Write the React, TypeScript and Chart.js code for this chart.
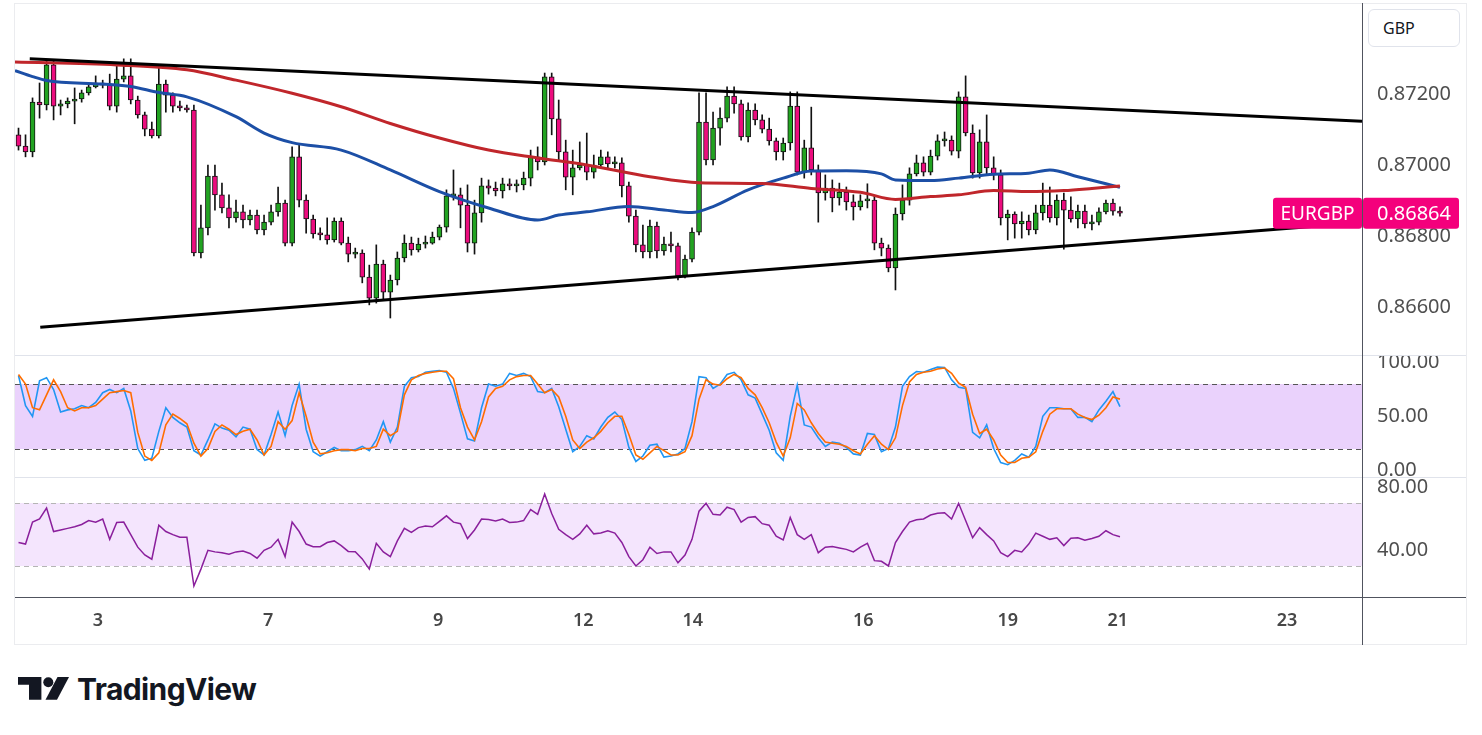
import React, { useEffect, useRef } from "react";
import { Chart, registerables } from "chart.js";

Chart.register(...registerables);
Chart.defaults.font.family = '"Noto Sans", sans-serif';

// ---------------- data ----------------
const SYMBOL = "EURGBP";
const CURRENCY = "GBP";

const OPEN = [
  0.87085, 0.87053, 0.87037, 0.87177, 0.87169, 0.87282, 0.87166, 0.87172, 0.8718, 0.87186,
  0.87203, 0.8722, 0.87231, 0.87225, 0.87166, 0.87242, 0.87251, 0.87183, 0.87141, 0.87101,
  0.87082, 0.87228, 0.87197, 0.87166, 0.87161, 0.87155, 0.86752, 0.86823, 0.86969, 0.86916,
  0.86879, 0.86851, 0.86868, 0.86845, 0.86859, 0.86817, 0.86839, 0.86868, 0.86893, 0.8678,
  0.87023, 0.86901, 0.86848, 0.86806, 0.86803, 0.86789, 0.86842, 0.8678, 0.86749, 0.86752,
  0.86684, 0.86625, 0.86721, 0.86642, 0.86676, 0.86738, 0.8678, 0.86761, 0.86777, 0.8678,
  0.86797, 0.86825, 0.86913, 0.86916, 0.86887, 0.8678, 0.86865, 0.86941, 0.86935, 0.86927,
  0.86947, 0.86941, 0.86944, 0.86963, 0.87023, 0.87009, 0.87248, 0.8713, 0.87037, 0.86966,
  0.86992, 0.87, 0.8698, 0.87, 0.87023, 0.87003, 0.87006, 0.86941, 0.86856, 0.86775,
  0.86755, 0.86828, 0.86758, 0.86777, 0.86772, 0.86687, 0.86735, 0.86811, 0.87121, 0.87014,
  0.87104, 0.87132, 0.87194, 0.87172, 0.87079, 0.87155, 0.87127, 0.87101, 0.87068, 0.87037,
  0.87062, 0.87166, 0.8698, 0.87048, 0.86986, 0.86921, 0.86935, 0.86907, 0.86924, 0.86896,
  0.86882, 0.86899, 0.86901, 0.8678, 0.86766, 0.8671, 0.86862, 0.86901, 0.86975, 0.87006,
  0.8698, 0.87025, 0.87068, 0.8707, 0.87039, 0.87192, 0.8709, 0.86978, 0.87065, 0.86992,
  0.86972, 0.86851, 0.86862, 0.86834, 0.86842, 0.86817, 0.86865, 0.86887, 0.86851, 0.86901,
  0.86873, 0.86848, 0.8687, 0.86834, 0.86839, 0.86868, 0.86893, 0.8687,
];
const HIGH = [
  0.87104, 0.87085, 0.87189, 0.87231, 0.87296, 0.87296, 0.87183, 0.87189, 0.87217, 0.87211,
  0.87228, 0.87251, 0.87239, 0.87256, 0.87285, 0.87299, 0.87299, 0.87194, 0.87149, 0.87121,
  0.87282, 0.87239, 0.87203, 0.8718, 0.87169, 0.87169, 0.86887, 0.87, 0.87, 0.86949,
  0.86916, 0.86901, 0.86887, 0.86873, 0.86873, 0.86859, 0.86887, 0.86938, 0.86901, 0.87051,
  0.87056, 0.86916, 0.86859, 0.86823, 0.86851, 0.86851, 0.86851, 0.86797, 0.86766, 0.86761,
  0.86718, 0.86775, 0.86732, 0.8669, 0.86755, 0.86803, 0.86797, 0.86794, 0.868, 0.86811,
  0.86831, 0.8693, 0.86986, 0.86935, 0.86944, 0.86901, 0.86963, 0.86958, 0.86952, 0.86963,
  0.86961, 0.86958, 0.8698, 0.87042, 0.87051, 0.87259, 0.87259, 0.87183, 0.8707, 0.87042,
  0.87065, 0.8709, 0.87028, 0.87042, 0.87037, 0.87023, 0.8702, 0.86952, 0.86873, 0.86831,
  0.86845, 0.86839, 0.86797, 0.86811, 0.8678, 0.86746, 0.86823, 0.87203, 0.87203, 0.87149,
  0.87161, 0.8722, 0.8722, 0.87183, 0.87175, 0.87172, 0.87141, 0.87132, 0.87076, 0.87076,
  0.87206, 0.87206, 0.8707, 0.87163, 0.87, 0.86972, 0.86958, 0.86949, 0.86938, 0.86916,
  0.86916, 0.86947, 0.86913, 0.86794, 0.86775, 0.86879, 0.86944, 0.86992, 0.87028, 0.87023,
  0.87042, 0.87085, 0.87093, 0.87082, 0.87206, 0.87251, 0.87113, 0.87099, 0.87141, 0.87023,
  0.86986, 0.86873, 0.86868, 0.86868, 0.86859, 0.86887, 0.86949, 0.86938, 0.86916, 0.86921,
  0.8691, 0.86887, 0.86887, 0.86859, 0.86879, 0.86901, 0.86904, 0.86882,
];
const LOW = [
  0.87042, 0.87023, 0.87023, 0.87132, 0.87155, 0.87127, 0.87141, 0.87161, 0.87116, 0.87177,
  0.87197, 0.87217, 0.87217, 0.87155, 0.87149, 0.87234, 0.87172, 0.87132, 0.87082, 0.87076,
  0.87076, 0.87149, 0.87149, 0.87152, 0.87149, 0.86744, 0.86738, 0.86803, 0.86873, 0.86865,
  0.86823, 0.86839, 0.86823, 0.86831, 0.86806, 0.86803, 0.86831, 0.86856, 0.86772, 0.86772,
  0.86882, 0.86808, 0.86794, 0.86789, 0.86777, 0.86783, 0.86775, 0.86727, 0.86738, 0.86668,
  0.86606, 0.86611, 0.8662, 0.86569, 0.86662, 0.86727, 0.86746, 0.86755, 0.86766, 0.86777,
  0.86789, 0.86811, 0.86901, 0.86823, 0.86755, 0.86749, 0.86839, 0.86918, 0.86913, 0.86907,
  0.8693, 0.86924, 0.8693, 0.86941, 0.86986, 0.87, 0.87085, 0.87014, 0.8693, 0.86916,
  0.86986, 0.86958, 0.86963, 0.86992, 0.86992, 0.86992, 0.8691, 0.86839, 0.86755, 0.86738,
  0.86738, 0.86738, 0.86746, 0.86755, 0.86676, 0.86682, 0.86727, 0.86803, 0.87, 0.87,
  0.87056, 0.87121, 0.87146, 0.8707, 0.87065, 0.87113, 0.8709, 0.87056, 0.87014, 0.87014,
  0.87042, 0.86972, 0.86963, 0.86972, 0.86839, 0.86901, 0.86868, 0.86887, 0.86873, 0.86845,
  0.86873, 0.86879, 0.86761, 0.86744, 0.86699, 0.86648, 0.86845, 0.86887, 0.86969, 0.86969,
  0.86972, 0.87014, 0.87053, 0.87028, 0.8702, 0.87082, 0.86963, 0.86963, 0.86972, 0.86958,
  0.86831, 0.86789, 0.86794, 0.86794, 0.86803, 0.86806, 0.86845, 0.86839, 0.86831, 0.86763,
  0.86839, 0.86823, 0.86823, 0.86817, 0.86831, 0.86862, 0.86859, 0.86856,
];
const CLOSE = [
  0.87053, 0.87037, 0.87177, 0.87169, 0.87282, 0.87166, 0.87172, 0.8718, 0.87186, 0.87203,
  0.8722, 0.87231, 0.87225, 0.87166, 0.87242, 0.87251, 0.87183, 0.87141, 0.87101, 0.87082,
  0.87228, 0.87197, 0.87166, 0.87161, 0.87155, 0.86752, 0.86823, 0.86969, 0.86916, 0.86879,
  0.86851, 0.86868, 0.86845, 0.86859, 0.86817, 0.86839, 0.86868, 0.86893, 0.8678, 0.87023,
  0.86901, 0.86848, 0.86806, 0.86803, 0.86789, 0.86842, 0.8678, 0.86749, 0.86752, 0.86684,
  0.86625, 0.86721, 0.86642, 0.86676, 0.86738, 0.8678, 0.86761, 0.86777, 0.8678, 0.86797,
  0.86825, 0.86913, 0.86916, 0.86887, 0.8678, 0.86865, 0.86941, 0.86935, 0.86927, 0.86947,
  0.86941, 0.86944, 0.86963, 0.87023, 0.87009, 0.87248, 0.8713, 0.87037, 0.86966, 0.86992,
  0.87, 0.8698, 0.87, 0.87023, 0.87003, 0.87006, 0.86941, 0.86856, 0.86775, 0.86755,
  0.86828, 0.86758, 0.86777, 0.86772, 0.86687, 0.86735, 0.86811, 0.87121, 0.87014, 0.87104,
  0.87132, 0.87194, 0.87172, 0.87079, 0.87155, 0.87127, 0.87101, 0.87068, 0.87037, 0.87062,
  0.87166, 0.8698, 0.87048, 0.86986, 0.86921, 0.86935, 0.86907, 0.86924, 0.86896, 0.86882,
  0.86899, 0.86901, 0.8678, 0.86766, 0.8671, 0.86862, 0.86901, 0.86975, 0.87006, 0.8698,
  0.87025, 0.87068, 0.8707, 0.87039, 0.87192, 0.8709, 0.86978, 0.87065, 0.86992, 0.86972,
  0.86851, 0.86862, 0.86834, 0.86842, 0.86817, 0.86865, 0.86887, 0.86851, 0.86901, 0.86873,
  0.86848, 0.8687, 0.86834, 0.86839, 0.86868, 0.86893, 0.8687, 0.86864,
];

// moving averages (index position + value)
const MA_FAST_X = [-0.5, 2, 4, 12, 16, 20, 24, 31, 35, 39, 46, 53, 60, 67, 74, 77, 81, 87, 92, 96, 99, 104, 109, 113, 118, 123, 125, 130, 134, 139, 144, 147, 151, 157];
const MA_FAST = [0.87266, 0.87249, 0.87238, 0.87228, 0.87221, 0.87204, 0.87192, 0.87136, 0.8709, 0.87063, 0.87042, 0.86986, 0.86925, 0.86879, 0.86845, 0.86859, 0.86868, 0.86883, 0.86873, 0.86866, 0.86883, 0.8693, 0.86963, 0.86983, 0.86984, 0.86975, 0.86958, 0.86956, 0.86963, 0.86974, 0.86977, 0.86986, 0.86967, 0.86937];
const MA_SLOW_X = [-0.5, 14, 24, 31, 39, 46, 53, 60, 67, 74, 81, 90, 97, 106, 113, 120, 125, 130, 134, 139, 144, 149, 153, 157];
const MA_SLOW = [0.8729, 0.87282, 0.87268, 0.87239, 0.87202, 0.87164, 0.87117, 0.87076, 0.87042, 0.8702, 0.87, 0.86967, 0.8695, 0.86948, 0.86934, 0.86923, 0.86903, 0.86911, 0.86916, 0.86928, 0.86925, 0.86928, 0.86934, 0.86941];

// trend lines (index position + price)
const TREND_UPPER_X = [1.6, 191.5];
const TREND_UPPER = [0.87299, 0.87123];
const TREND_LOWER_X = [3.1, 191.5];
const TREND_LOWER = [0.86543, 0.86838];

// stochastic %K / %D
const STOCH_K = [
  88, 60, 50, 83, 86, 75, 54, 56, 57, 60,
  58, 63, 72, 75, 72, 76, 55, 20, 9, 11,
  36, 58, 49, 44, 40, 18, 14, 28, 43, 39,
  37, 31, 40, 38, 19, 14, 33, 54, 32, 60,
  80, 38, 17, 13, 17, 21, 18, 18, 19, 22,
  18, 28, 45, 26, 40, 78, 86, 87, 91, 92,
  92.5, 91, 76, 53, 29, 27, 58, 80, 78, 80,
  90, 88, 90, 87, 73, 72, 76, 59, 38, 17,
  22, 32, 29, 40, 49, 54, 47, 21, 8, 13,
  23, 24, 12, 13, 15, 20, 45, 87, 86, 76,
  80, 89, 91, 84, 70, 67, 52, 37, 16, 9,
  50, 79, 42, 40, 30, 22, 26, 25, 21, 15,
  14, 34, 33, 17, 20, 40, 78, 87, 91.7, 91,
  93.5, 95.8, 95.5, 84, 77, 76, 35, 30, 42, 20,
  7, 5, 9, 15, 12, 22, 50, 58, 58, 57,
  57, 49, 49, 45, 56, 64, 73, 59,
];
const STOCH_D = [
  89, 80, 58, 56, 70, 84, 73, 58, 55, 58,
  58, 60, 66, 72, 73, 74, 72, 35, 13, 9,
  16, 42, 52, 48, 43, 25, 13, 20, 36, 42,
  38, 33, 36, 38, 28, 14, 22, 45, 38, 46,
  72, 50, 26, 15, 16, 18, 19, 19, 18, 20,
  20, 22, 38, 32, 36, 70, 84, 88, 90, 91,
  92, 92, 85, 58, 40, 28, 45, 68, 76, 78,
  84, 87, 88, 88, 80, 72, 75, 68, 50, 28,
  20, 26, 30, 36, 44, 50, 50, 33, 14, 10,
  16, 22, 18, 14, 14, 17, 32, 66, 84, 80,
  79, 85, 89, 86, 76, 70, 58, 44, 26, 13,
  30, 62, 56, 44, 34, 26, 25, 24, 22, 18,
  15, 24, 32, 24, 19, 30, 60, 82, 89, 91,
  92, 94, 95, 90, 81, 77, 52, 34, 38, 28,
  14, 7, 7, 11, 12, 17, 36, 52, 57, 57,
  57, 52, 49, 47, 51, 58, 68, 66,
];
const RSI = [
  45, 44, 58, 60, 67, 52, 53, 54, 55, 56.5,
  59, 58, 60, 47, 57.8, 58, 50, 42, 37, 34.3,
  56, 52, 50, 48.3, 48.3, 17.2, 28, 40, 39, 38.5,
  37.5, 39, 39.5, 38, 35, 40, 42, 47, 36, 58,
  52, 44, 42.3, 42.3, 45, 46, 43, 39.3, 39.1, 34.5,
  28, 44.5, 39, 36, 46, 54, 51.5, 54.5, 55.5, 55,
  58.5, 62, 58, 57, 47.5, 53, 60, 59.7, 58.8, 60,
  57.8, 58, 59, 66, 63, 76, 63.5, 53.4, 50, 47,
  50.5, 56, 50.5, 51, 52.5, 51, 45, 36, 30, 34,
  42, 38, 39, 39, 32, 37, 47, 65, 70, 63,
  62.5, 67.5, 66, 58, 61, 61.5, 57, 56, 49, 46.6,
  61, 50, 47, 50, 38.5, 42, 42.5, 41.5, 40.6, 39,
  42, 44.5, 33.4, 33, 30, 45, 52, 58, 59.5, 60,
  62.5, 63.6, 64, 60, 70, 59, 48, 54.5, 50, 46,
  38.5, 36, 40, 39, 44, 51, 49, 47, 48, 43,
  47.7, 48, 46.5, 47.5, 49, 52.5, 50, 48.7,
];

const TIME_TICK_POS = [11.3, 35.6, 59.8, 80.5, 96.1, 120.4, 141.0, 156.7, 180.8];
const TIME_TICK_LABELS = ["3", "7", "9", "12", "14", "16", "19", "21", "23"];
const PRICE_TICKS = [0.866, 0.868, 0.87, 0.872];
const STOCH_TICKS = [0, 50, 100];
const RSI_TICKS = [40, 80];
const STOCH_BAND = [20, 80];
const RSI_BAND = [30, 70];

// ---------------- styling ----------------
const SLOTS = 192;
const AXIS_W = 104;
const UP = "#22a321";
const DOWN = "#ec0c7e";
const LABEL_BG = "#f4007c";
const AXIS_TEXT = "#4f4f4f";

function zeroPad(s: any) {
  s.paddingTop = 0;
  s.paddingBottom = 0;
  s.paddingLeft = 0;
  s.paddingRight = 0;
}

function xScale(show: boolean): any {
  return {
    type: "linear",
    min: -0.5,
    max: SLOTS - 0.5,
    bounds: "data",
    display: show,
    offset: false,
    grid: { display: false, drawTicks: false },
    border: { display: false },
    ticks: {
      autoSkip: false,
      maxRotation: 0,
      padding: 13,
      color: "#474747",
      font: { size: 18, weight: "600" },
      callback: (_v: any, i: number) => TIME_TICK_LABELS[i],
    },
    afterBuildTicks: (s: any) => {
      s.ticks = TIME_TICK_POS.map((value) => ({ value }));
    },
    afterFit: (s: any) => {
      zeroPad(s);
      if (show) s.height = 48;
    },
  };
}

function yScale(min: number, max: number, ticks: number[], decimals: number): any {
  return {
    type: "linear",
    position: "right",
    min,
    max,
    bounds: "data",
    grid: { display: false, drawTicks: false },
    border: { display: false },
    ticks: {
      autoSkip: false,
      padding: 15,
      color: AXIS_TEXT,
      font: { size: 20 },
      callback: (v: any) => Number(v).toFixed(decimals),
    },
    afterBuildTicks: (s: any) => {
      s.ticks = ticks.map((value) => ({ value }));
    },
    afterFit: (s: any) => {
      zeroPad(s);
      s.width = AXIS_W;
    },
  };
}

function bandPlugin(band: number[], fill: string, dash: string): any {
  return {
    id: "band",
    beforeDatasetsDraw(chart: any) {
      const { ctx, chartArea, scales } = chart;
      const yTop = Math.round(scales.y.getPixelForValue(band[1]));
      const yBot = Math.round(scales.y.getPixelForValue(band[0]));
      ctx.save();
      ctx.fillStyle = fill;
      ctx.fillRect(chartArea.left, yTop, chartArea.right - chartArea.left, yBot - yTop);
      ctx.strokeStyle = dash;
      ctx.lineWidth = 1;
      ctx.setLineDash([5, 4]);
      ctx.beginPath();
      ctx.moveTo(chartArea.left, yTop + 0.5);
      ctx.lineTo(chartArea.right, yTop + 0.5);
      ctx.moveTo(chartArea.left, yBot + 0.5);
      ctx.lineTo(chartArea.right, yBot + 0.5);
      ctx.stroke();
      ctx.restore();
    },
  };
}

const lastPricePlugin: any = {
  id: "lastPrice",
  afterDraw(chart: any) {
    const { ctx, chartArea, scales } = chart;
    const last = CLOSE[CLOSE.length - 1];
    const y = scales.y.getPixelForValue(last);
    const h = 31;
    const r = chartArea.right;
    ctx.save();
    ctx.fillStyle = LABEL_BG;
    ctx.beginPath();
    ctx.roundRect(r - 89, y - h / 2, 89, h, 3);
    ctx.fill();
    ctx.beginPath();
    ctx.roundRect(r + 1, y - h / 2, 96, h, 3);
    ctx.fill();
    ctx.fillStyle = "#ffffff";
    ctx.textBaseline = "middle";
    ctx.font = '19px "Noto Sans", sans-serif';
    ctx.textAlign = "center";
    ctx.fillText(SYMBOL, r - 44.5, y + 1);
    ctx.font = '20px "Noto Sans", sans-serif';
    ctx.textAlign = "left";
    ctx.fillText(last.toFixed(5), r + 15, y + 1);
    ctx.restore();
  },
};

const baseOptions: any = {
  animation: false,
  responsive: true,
  maintainAspectRatio: false,
  layout: { padding: 0 },
  plugins: { legend: { display: false }, tooltip: { enabled: false } },
  events: [],
};

export default function App() {
  const mainRef = useRef<HTMLCanvasElement>(null);
  const stochRef = useRef<HTMLCanvasElement>(null);
  const rsiRef = useRef<HTMLCanvasElement>(null);

  useEffect(() => {
    document.body.style.margin = "0";
    const colors = CLOSE.map((c, i) => (c >= OPEN[i] ? UP : DOWN));

    const main = new Chart(mainRef.current as HTMLCanvasElement, {
      type: "bar",
      data: {
        datasets: [
          {
            type: "line",
            label: "upper",
            data: TREND_UPPER_X.map((x, i) => ({ x, y: TREND_UPPER[i] })),
            borderColor: "#000",
            borderWidth: 3,
            pointRadius: 0,
            order: 0,
          },
          {
            type: "line",
            label: "lower",
            data: TREND_LOWER_X.map((x, i) => ({ x, y: TREND_LOWER[i] })),
            borderColor: "#000",
            borderWidth: 3,
            pointRadius: 0,
            order: 0,
          },
          {
            type: "line",
            label: "MA slow",
            data: MA_SLOW_X.map((x, i) => ({ x, y: MA_SLOW[i] })),
            borderColor: "#c0262b",
            borderWidth: 3,
            pointRadius: 0,
            cubicInterpolationMode: "monotone",
            order: 1,
          },
          {
            type: "line",
            label: "MA fast",
            data: MA_FAST_X.map((x, i) => ({ x, y: MA_FAST[i] })),
            borderColor: "#1c4fa6",
            borderWidth: 3,
            pointRadius: 0,
            cubicInterpolationMode: "monotone",
            order: 1,
          },
          {
            type: "bar",
            label: "body",
            data: OPEN.map((o, i) => ({ x: i, y: [o, CLOSE[i]] })),
            backgroundColor: colors,
            borderColor: "#111",
            borderWidth: 1,
            borderSkipped: false,
            barThickness: 5,
            minBarLength: 2,
            grouped: false,
            order: 2,
          },
          {
            type: "bar",
            label: "wick",
            data: LOW.map((l, i) => ({ x: i, y: [l, HIGH[i]] })),
            backgroundColor: "#111",
            barThickness: 1,
            grouped: false,
            order: 3,
          },
        ] as any,
      },
      options: {
        ...baseOptions,
        scales: {
          x: xScale(false),
          y: yScale(0.864648, 0.874563, PRICE_TICKS, 5),
        },
      },
      plugins: [lastPricePlugin],
    } as any);

    const stoch = new Chart(stochRef.current as HTMLCanvasElement, {
      type: "line",
      data: {
        datasets: [
          {
            label: "%D",
            data: STOCH_D.map((y, x) => ({ x, y })),
            borderColor: "#ff6d00",
            borderWidth: 1.6,
            pointRadius: 0,
          },
          {
            label: "%K",
            data: STOCH_K.map((y, x) => ({ x, y })),
            borderColor: "#2196f3",
            borderWidth: 1.6,
            pointRadius: 0,
          },
        ],
      },
      options: {
        ...baseOptions,
        scales: {
          x: xScale(false),
          y: yScale(-6.5, 107.1, STOCH_TICKS, 2),
        },
      },
      plugins: [bandPlugin(STOCH_BAND, "#ead2fc", "#555")],
    } as any);

    const rsi = new Chart(rsiRef.current as HTMLCanvasElement, {
      type: "line",
      data: {
        datasets: [
          {
            label: "RSI",
            data: RSI.map((y, x) => ({ x, y })),
            borderColor: "#8a1f9c",
            borderWidth: 1.5,
            pointRadius: 0,
          },
        ],
      },
      options: {
        ...baseOptions,
        scales: {
          x: xScale(true),
          y: yScale(10.2, 86.8, RSI_TICKS, 2),
        },
      },
      plugins: [bandPlugin(RSI_BAND, "#f4e5fd", "#b5b5b5")],
    } as any);

    return () => {
      main.destroy();
      stoch.destroy();
      rsi.destroy();
    };
  }, []);

  const abs = (l: number, t: number, w: number, h: number): React.CSSProperties => ({
    position: "absolute",
    left: l,
    top: t,
    width: w,
    height: h,
  });

  return (
    <div
      style={{
        position: "fixed",
        left: 0,
        top: 0,
        width: 1482,
        height: 735,
        background: "#ffffff",
        overflow: "hidden",
        fontFamily: '"Noto Sans", sans-serif',
      }}
    >
      <div style={abs(15, 3, 1451, 352)}>
        <canvas ref={mainRef} />
      </div>
      <div style={abs(15, 355, 1451, 122)}>
        <canvas ref={stochRef} />
      </div>
      <div style={abs(15, 477, 1451, 168)}>
        <canvas ref={rsiRef} />
      </div>

      {/* frame and separators */}
      <div style={{ ...abs(14, 3, 1453, 642), border: "1px solid #ebecef", boxSizing: "border-box", pointerEvents: "none" }} />
      <div style={{ ...abs(15, 355, 1451, 1), background: "#e0e3eb" }} />
      <div style={{ ...abs(15, 477, 1451, 1), background: "#e0e3eb" }} />
      <div style={{ ...abs(15, 597, 1451, 1), background: "#50535e" }} />
      <div style={{ ...abs(1362, 3, 1, 642), background: "#50535e" }} />

      {/* currency box */}
      <div
        style={{
          ...abs(1368, 9, 92, 38),
          border: "1px solid #e0e3eb",
          borderRadius: 6,
          boxSizing: "border-box",
          background: "#fff",
          fontSize: 16,
          color: "#131722",
          lineHeight: "36px",
          paddingLeft: 14,
        }}
      >
        {CURRENCY}
      </div>

      {/* logo */}
      <svg style={{ position: "absolute", left: 18, top: 677 }} width={52} height={24} viewBox="0 0 52 24">
        <path d="M0 0H23.4V22.7H11V7.7H0Z" fill="#131722" />
        <circle cx="30.3" cy="5.2" r="5" fill="#131722" />
        <path d="M39.5 0H51L39 22.7H27.5Z" fill="#131722" />
      </svg>
      <div
        style={{
          position: "absolute",
          left: 77,
          top: 674,
          fontFamily: "Inter, sans-serif",
          fontWeight: 700,
          fontSize: 30,
          lineHeight: "30px",
          color: "#131722",
          letterSpacing: -0.6,
          whiteSpace: "nowrap",
        }}
      >
        TradingView
      </div>
    </div>
  );
}
